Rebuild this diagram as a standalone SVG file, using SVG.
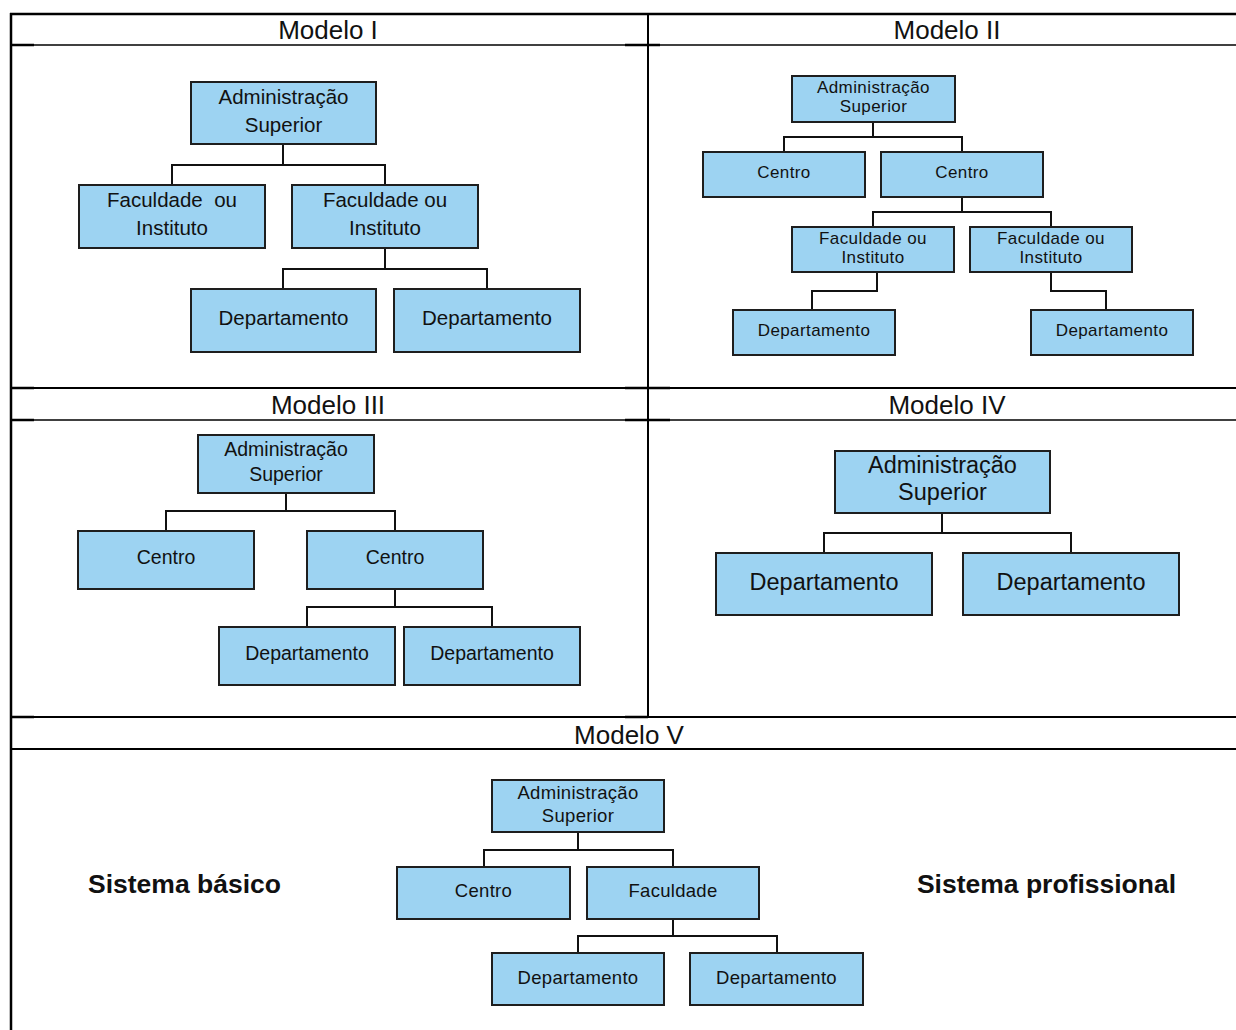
<svg xmlns="http://www.w3.org/2000/svg" width="1236" height="1030" viewBox="0 0 1236 1030">
<style>
.tb{stroke:#000;fill:none}
.box{fill:#9dd3f2;stroke:#1e1e1e;stroke-width:2}
.cn{fill:none;stroke:#111;stroke-width:2}
text{font-family:"Liberation Sans",Arial,sans-serif;fill:#111;text-anchor:middle}
.h{font-size:26px}
.t1{font-size:20.5px}
.t2{font-size:17px;letter-spacing:0.4px}
.t3{font-size:19.5px}
.t4{font-size:23.5px}
.t5{font-size:18.5px;letter-spacing:0.3px}
.b{font-size:26.5px;font-weight:bold}
</style>
<rect width="1236" height="1030" fill="#fff"/>
<g id="table">
<line class="tb" x1="10" y1="14" x2="1236" y2="14" stroke-width="2.5"/>
<line class="tb" x1="11" y1="13" x2="11" y2="1030" stroke-width="2.5"/>
<line class="tb" x1="648" y1="14" x2="648" y2="717" stroke-width="2"/>
<line class="tb" x1="11" y1="45" x2="1236" y2="45" stroke-width="1.5"/>
<line class="tb" x1="11" y1="388" x2="1236" y2="388" stroke-width="2"/>
<line class="tb" x1="11" y1="420" x2="1236" y2="420" stroke-width="1.5"/>
<line class="tb" x1="11" y1="717" x2="1236" y2="717" stroke-width="2"/>
<line class="tb" x1="11" y1="749" x2="1236" y2="749" stroke-width="2"/>
<g stroke-width="2.5" class="tb">
<line x1="11" y1="45" x2="34" y2="45"/><line x1="625" y1="45" x2="660" y2="45"/>
<line x1="11" y1="388" x2="34" y2="388"/><line x1="625" y1="388" x2="670" y2="388"/>
<line x1="11" y1="420" x2="34" y2="420"/><line x1="625" y1="420" x2="670" y2="420"/>
<line x1="11" y1="717" x2="34" y2="717"/><line x1="625" y1="717" x2="648" y2="717"/>
</g>
<text class="h" x="328" y="39">Modelo I</text>
<text class="h" x="947" y="39">Modelo II</text>
<text class="h" x="328" y="414">Modelo III</text>
<text class="h" x="947" y="414">Modelo IV</text>
<text class="h" x="629" y="744">Modelo V</text>
</g>
<g id="connectors">
<path class="cn" d="M283,144V165M172,185V165H385V185M385,248V269M283,289V269H487V289"/>
<path class="cn" d="M873,122V137M784,152V137H962V152M962,197V212M873,227V212H1051V227M877,272V291H812V310M1051,272V291H1106V310"/>
<path class="cn" d="M286,493V511M166,531V511H395V531M395,589V607M307,627V607H492V627"/>
<path class="cn" d="M942,513V533M824,553V533H1071V553"/>
<path class="cn" d="M578,832V850M484,867V850H673V867M673,919V936M578,953V936H777V953"/>
</g>
<g id="m1-admin"><rect class="box" x="191" y="82" width="185" height="62"/><text class="t1" x="283.5" y="104">Administração</text><text class="t1" x="283.5" y="132">Superior</text></g>
<g id="m1-fac1"><rect class="box" x="79" y="185" width="186" height="63"/><text class="t1" x="172" y="207" xml:space="preserve">Faculdade  ou</text><text class="t1" x="172" y="235">Instituto</text></g>
<g id="m1-fac2"><rect class="box" x="292" y="185" width="186" height="63"/><text class="t1" x="385" y="207">Faculdade ou</text><text class="t1" x="385" y="235">Instituto</text></g>
<g id="m1-dep1"><rect class="box" x="191" y="289" width="185" height="63"/><text class="t1" x="283.5" y="325">Departamento</text></g>
<g id="m1-dep2"><rect class="box" x="394" y="289" width="186" height="63"/><text class="t1" x="487" y="325">Departamento</text></g>

<g id="m2-admin"><rect class="box" x="792" y="76" width="163" height="46"/><text class="t2" x="873.5" y="93">Administração</text><text class="t2" x="873.5" y="112">Superior</text></g>
<g id="m2-centro1"><rect class="box" x="703" y="152" width="162" height="45"/><text class="t2" x="784" y="178">Centro</text></g>
<g id="m2-centro2"><rect class="box" x="881" y="152" width="162" height="45"/><text class="t2" x="962" y="178">Centro</text></g>
<g id="m2-fac1"><rect class="box" x="792" y="227" width="162" height="45"/><text class="t2" x="873" y="244">Faculdade ou</text><text class="t2" x="873" y="263">Instituto</text></g>
<g id="m2-fac2"><rect class="box" x="970" y="227" width="162" height="45"/><text class="t2" x="1051" y="244">Faculdade ou</text><text class="t2" x="1051" y="263">Instituto</text></g>
<g id="m2-dep1"><rect class="box" x="733" y="310" width="162" height="45"/><text class="t2" x="814" y="336">Departamento</text></g>
<g id="m2-dep2"><rect class="box" x="1031" y="310" width="162" height="45"/><text class="t2" x="1112" y="336">Departamento</text></g>

<g id="m3-admin"><rect class="box" x="198" y="435" width="176" height="58"/><text class="t3" x="286" y="456">Administração</text><text class="t3" x="286" y="481">Superior</text></g>
<g id="m3-centro1"><rect class="box" x="78" y="531" width="176" height="58"/><text class="t3" x="166" y="564">Centro</text></g>
<g id="m3-centro2"><rect class="box" x="307" y="531" width="176" height="58"/><text class="t3" x="395" y="564">Centro</text></g>
<g id="m3-dep1"><rect class="box" x="219" y="627" width="176" height="58"/><text class="t3" x="307" y="660">Departamento</text></g>
<g id="m3-dep2"><rect class="box" x="404" y="627" width="176" height="58"/><text class="t3" x="492" y="660">Departamento</text></g>

<g id="m4-admin"><rect class="box" x="835" y="451" width="215" height="62"/><text class="t4" x="942.5" y="473">Administração</text><text class="t4" x="942.5" y="500">Superior</text></g>
<g id="m4-dep1"><rect class="box" x="716" y="553" width="216" height="62"/><text class="t4" x="824" y="590">Departamento</text></g>
<g id="m4-dep2"><rect class="box" x="963" y="553" width="216" height="62"/><text class="t4" x="1071" y="590">Departamento</text></g>

<g id="m5-admin"><rect class="box" x="492" y="780" width="172" height="52"/><text class="t5" x="578" y="799">Administração</text><text class="t5" x="578" y="822">Superior</text></g>
<g id="m5-centro"><rect class="box" x="397" y="867" width="173" height="52"/><text class="t5" x="483.5" y="896.5">Centro</text></g>
<g id="m5-fac"><rect class="box" x="587" y="867" width="172" height="52"/><text class="t5" x="673" y="896.5">Faculdade</text></g>
<g id="m5-dep1"><rect class="box" x="492" y="953" width="172" height="52"/><text class="t5" x="578" y="983.5">Departamento</text></g>
<g id="m5-dep2"><rect class="box" x="690" y="953" width="173" height="52"/><text class="t5" x="776.5" y="983.5">Departamento</text></g>
<g id="labels">
<text class="b" x="184.5" y="893">Sistema básico</text>
<text class="b" x="1046.5" y="893">Sistema profissional</text>
</g>
</svg>
